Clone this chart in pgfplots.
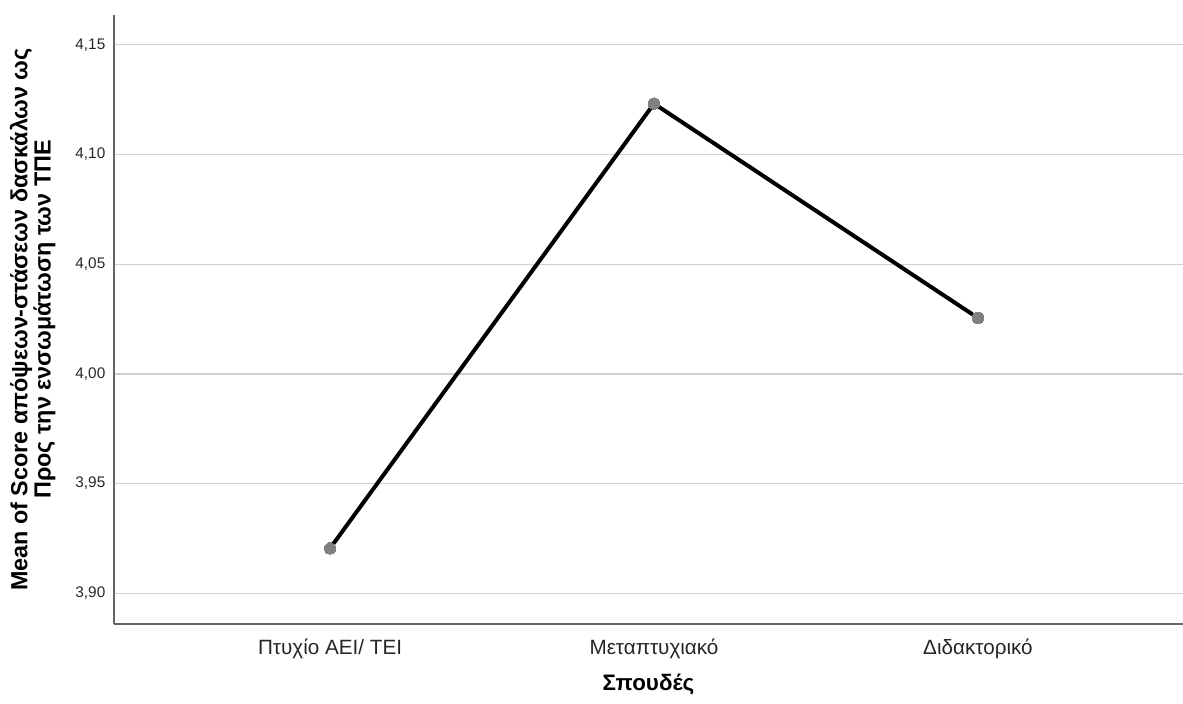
\documentclass[border=0pt]{standalone}
\usepackage{fontspec}
\setmainfont{Liberation Sans}
\usepackage{pgfplots}
\pgfplotsset{compat=1.18}
\definecolor{gridc}{RGB}{208,208,208}
\definecolor{axc}{RGB}{100,100,100}
\definecolor{markc}{RGB}{128,128,128}
\begin{document}
\begin{tikzpicture}
\begin{axis}[
  scale only axis,
  width=801.75pt, height=456.75pt,
  xmin=-0.667, xmax=2.633,
  ymin=3.886, ymax=4.1636,
  axis x line*=bottom, axis y line*=left,
  axis line style={axc, line width=0.9pt},
  xtick={0,1,2},
  xticklabels={Πτυχίο ΑΕΙ/ ΤΕΙ, Μεταπτυχιακό, Διδακτορικό},
  ytick={3.90,3.95,4.00,4.05,4.10,4.15},
  major tick length=0pt,
  ymajorgrids,
  grid style={gridc, line width=1pt},
  /pgf/number format/assume math mode=true,
  y tick label style={/pgf/number format/fixed, /pgf/number format/fixed zerofill, /pgf/number format/precision=2, /pgf/number format/use comma},
  yticklabel style={font=\fontsize{11.5}{13}\selectfont, text=black!85, xshift=-3pt},
  xticklabel style={font=\fontsize{15.5}{18}\selectfont, text=black!85, yshift=-7.5pt},
  xlabel={\textbf{Σπουδές}},
  xlabel style={font=\fontsize{16.8}{19}\selectfont, anchor=center, at={(axis description cs:0.5,0)}, yshift=-45pt},
  ylabel={\textbf{Mean of Score απόψεων-στάσεων δασκάλων ως}\\\textbf{Προς την ενσωμάτωση των ΤΠΕ}},
  ylabel style={font=\fontsize{17.5}{16}\selectfont, align=center, anchor=center, at={(axis description cs:0,0.5)}, yshift=61pt},
  clip=false,
]
\addplot[black, line width=3pt, mark=*, mark size=4.3pt, mark options={fill=markc, draw=markc, line width=0pt}]
  coordinates {(0,3.9205) (1,4.1232) (2,4.0255)};
\end{axis}
\pgfresetboundingbox
\useasboundingbox (-85.5pt,-60pt) rectangle (801.75pt,468pt);
\end{tikzpicture}
\end{document}
